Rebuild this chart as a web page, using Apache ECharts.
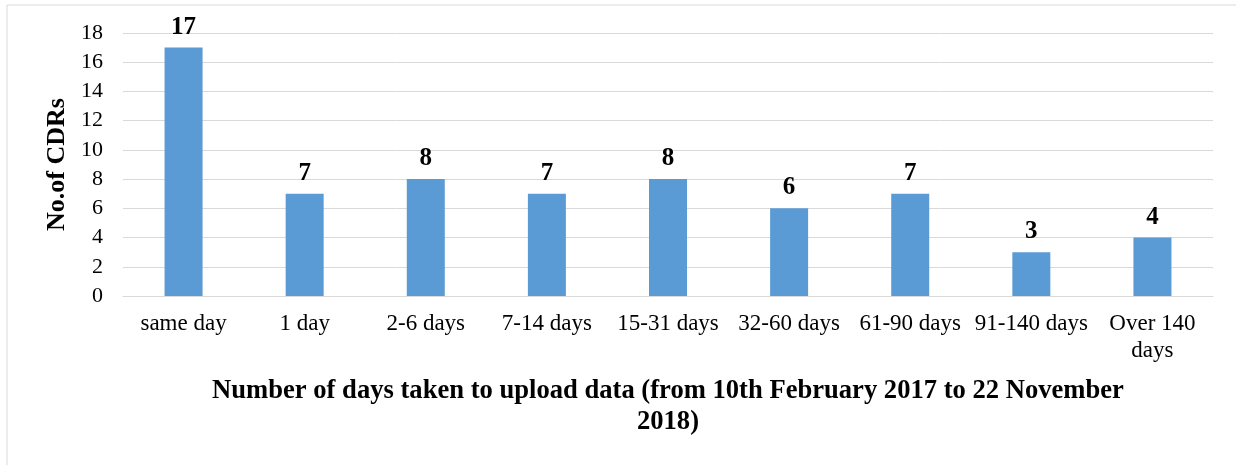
<!DOCTYPE html>
<html>
    <head>
        <meta charset="UTF-8">
        <style>
            html, body { margin: 0; padding: 0; background: #fff; }
            #chart { width: 1236px; height: 465px; }
        </style>
        <script src="https://cdn.jsdelivr.net/npm/echarts@6/dist/echarts.min.js"></script>
    </head>
    <body>
        <div id="chart"></div>
    </body>
    <script>
        var categories = ['same day', '1 day', '2-6 days', '7-14 days', '15-31 days', '32-60 days', '61-90 days', '91-140 days', 'Over 140\ndays'];
        var counts = [17, 7, 8, 7, 8, 6, 7, 3, 4];

        var font = '"Liberation Serif", "Times New Roman", serif';

        var chart = echarts.init(document.getElementById('chart'));
        chart.setOption({
            animation: false,
            textStyle: { fontFamily: font },
            graphic: [{
                type: 'rect',
                shape: { x: 7, y: 5, width: 1240, height: 470 },
                style: { fill: 'none', stroke: '#d9d9d9', lineWidth: 1 }
            }],
            grid: { left: 123, right: 23, top: 33, bottom: 169 },
            xAxis: {
                type: 'category',
                data: categories,
                axisLine: { lineStyle: { color: '#d9d9d9' } },
                axisTick: { show: false },
                axisLabel: { interval: 0, color: '#000', fontSize: 23, fontFamily: font, margin: 14, lineHeight: 27 },
                name: 'Number of days taken to upload data (from 10th February 2017 to 22 November\n2018)',
                nameLocation: 'middle',
                nameGap: 80,
                nameTextStyle: { color: '#000', fontSize: 26.6, fontWeight: 'bold', fontFamily: font, lineHeight: 31 }
            },
            yAxis: {
                type: 'value',
                min: 0,
                max: 18,
                interval: 2,
                splitLine: { lineStyle: { color: '#d9d9d9' } },
                axisLabel: { color: '#000', fontSize: 22, fontFamily: font, margin: 20 },
                name: 'No.of CDRs',
                nameLocation: 'middle',
                nameGap: 52,
                nameTextStyle: { color: '#000', fontSize: 26, fontWeight: 'bold', fontFamily: font }
            },
            series: [{
                type: 'bar',
                data: counts,
                barWidth: 38,
                itemStyle: { color: '#5b9bd5' },
                label: {
                    show: true,
                    position: 'top',
                    distance: 8,
                    color: '#000',
                    fontSize: 25,
                    fontWeight: 'bold',
                    fontFamily: font
                }
            }]
        });
    </script>
</html>
